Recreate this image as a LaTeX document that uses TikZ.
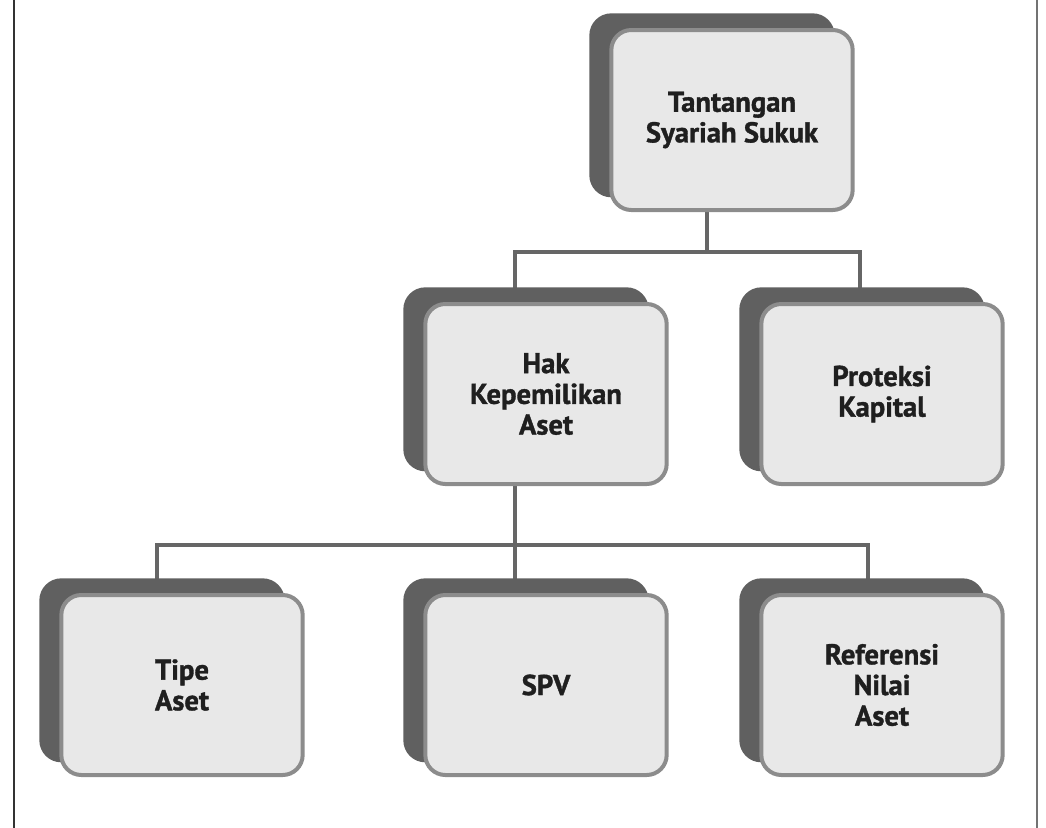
\documentclass[tikz,border=0pt]{standalone}
\usepackage{fontspec}
\setmainfont{PT Sans}[BoldFeatures={FakeBold=1.2}]
\usetikzlibrary{shadows,backgrounds}
\definecolor{boxfill}{HTML}{E8E8E8}
\definecolor{boxline}{HTML}{8C8C8C}
\definecolor{boxshade}{HTML}{606060}
\definecolor{linkgray}{HTML}{666666}
\tikzset{
	topic/.style={draw=boxline,line width=3pt,fill=boxfill,rounded corners=15pt,
		minimum width=181pt,minimum height=135pt,align=center,text=black!88,
		font=\bfseries\fontsize{21.5}{23}\selectfont,
		general shadow={fill=boxshade,draw=boxshade,shadow xshift=-15pt,shadow yshift=11pt}},
	link/.style={draw=linkgray,line width=3pt}
}

\begin{document}
\begin{tikzpicture}[x=0.75pt,y=-0.75pt]
	\useasboundingbox (0,0) rectangle (1046,828);
	\draw[line width=1.5pt,black!80] (14,0) -- (14,828);
	\draw[line width=0.8pt,black!55] (1037,0) -- (1037,828);

	\node[topic](tantangan) at (732,120) {Tantangan\\Syariah Sukuk};
	\node[topic](hak) at (546,394) {Hak\\Kepemilikan\\Aset};
	\node[topic](proteksi) at (882,394) {Proteksi\\Kapital};
	\node[topic](tipe) at (182,685) {Tipe\\Aset};
	\node[topic](spv) at (546,685) {SPV};
	\node[topic](referensi) at (882,685) {Referensi\\Nilai\\Aset};

	\begin{scope}[on background layer]
	 \draw[link]([xshift=-19pt]tantangan.south) -- ++(0,40) coordinate(bar-top);
	 \draw[link]([xshift=-23pt]hak.north) |- (bar-top) -| ([xshift=-16.5pt]proteksi.north);

	 \draw[link]([xshift=-23pt]hak.south) -- coordinate[pos=.55](bar-low) ([xshift=-23pt]spv.north);
	 \draw[link]([xshift=-19pt]tipe.north) |- (bar-low) -| ([xshift=-10.5pt]referensi.north);
	\end{scope}
\end{tikzpicture}
\end{document}
